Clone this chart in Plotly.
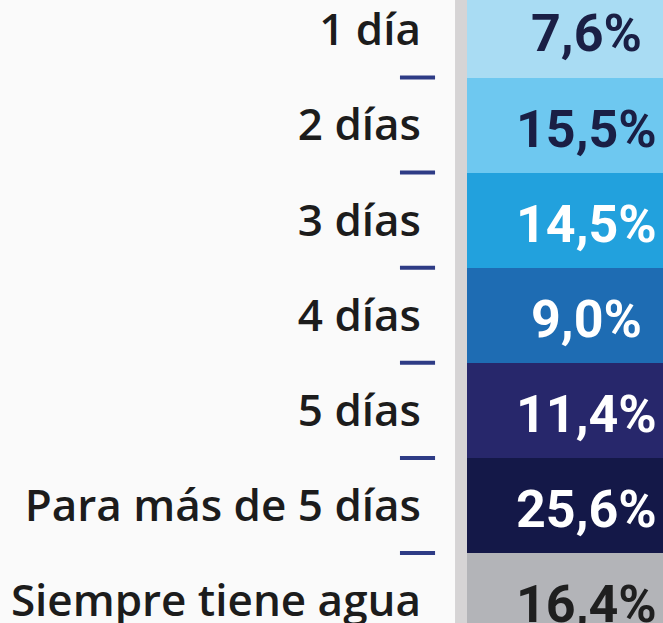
import plotly.graph_objects as go

categories = ["1 día", "2 días", "3 días", "4 días", "5 días",
              "Para más de 5 días", "Siempre tiene agua"]
values = [7.6, 15.5, 14.5, 9.0, 11.4, 25.6, 16.4]
cell_colors = ["#a9dcf3", "#6ec8f0", "#22a1dd", "#1e6cb3",
               "#27276b", "#141848", "#b3b4b8"]
text_colors = ["#1a1f45", "#1a1f45", "#ffffff", "#ffffff",
               "#ffffff", "#ffffff", "#1f1f1f"]

n = len(categories)
idx = list(range(n))
value_labels = [f"{v:.1f}".replace(".", ",") + "%" for v in values]

colorscale = [[i / (n - 1), c] for i, c in enumerate(cell_colors)]

fig = go.Figure()
fig.add_trace(go.Heatmap(
    z=[[i] for i in idx], x=[0], y=idx,
    colorscale=colorscale, zmin=0, zmax=n - 1,
    showscale=False, hoverinfo="skip",
))

for i, (lab, col) in enumerate(zip(value_labels, text_colors)):
    fig.add_annotation(
        x=0, y=i, xref="x", yref="y", text=lab, showarrow=False,
        font=dict(family="Roboto", size=52, color=col, weight=700),
        xanchor="center", yanchor="middle", yshift=-4,
    )

# separator dashes between category labels
for i in range(n - 1):
    fig.add_shape(
        type="line", xref="paper", yref="y",
        x0=-0.342, x1=-0.163, y0=i + 0.5, y1=i + 0.5,
        line=dict(color="#2e3b85", width=4),
    )

# light gray strip left of the cells
fig.add_shape(
    type="rect", xref="paper", yref="paper",
    x0=-0.061, x1=0, y0=0, y1=1,
    fillcolor="#d6d4d5", line=dict(width=0), layer="below",
)

fig.update_layout(
    width=663, height=623,
    margin=dict(l=467, r=0, t=0, b=0),
    paper_bgcolor="#fafafa", plot_bgcolor="#fafafa",
    showlegend=False,
    xaxis=dict(range=[-0.5, 0.3235], visible=False, fixedrange=True),
    yaxis=dict(
        range=[6.236, -0.315], tickmode="array", tickvals=idx,
        ticktext=categories, showgrid=False, zeroline=False,
        ticks="", ticklabelstandoff=45, automargin=False,
        ticklabeloverflow="allow", fixedrange=True,
        tickfont=dict(family="Open Sans", size=44, color="#1c1c1c", weight=600),
    ),
)

fig.write_html("out.html",
               config={"displayModeBar": False},
               post_script="document.body.style.margin='0';document.body.style.background='#fafafa';")
